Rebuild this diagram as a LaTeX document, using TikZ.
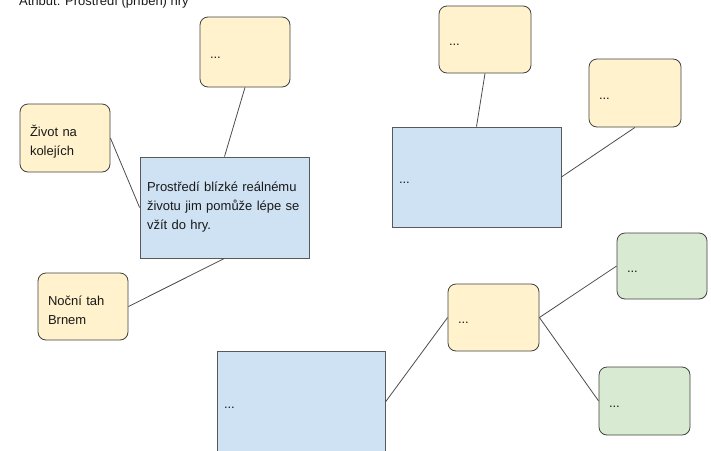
\documentclass[tikz,border=0pt]{standalone}
\usepackage{fontspec}
\setmainfont{Liberation Sans}
\begin{document}
\begin{tikzpicture}[x=1pt,y=-1pt,
  every node/.style={font=\fontsize{13}{19}\selectfont, text=black!90},
  ybox/.style 2 args={draw=black!75, line width=0.8pt, fill=ynote,
    rounded corners=8pt, inner xsep=10pt, inner ysep=0pt, align=left,
    minimum height=#2, text width=#1-20pt},
  gbox/.style 2 args={ybox={#1}{#2}, fill=gnote},
  bbox/.style 2 args={draw=black!65, line width=0.8pt, fill=bnote,
    inner xsep=7pt, inner ysep=0pt, align=left,
    minimum height=#2, text width=#1-14pt},
  oneline/.style={text height=12pt, text depth=0pt},
  twoline/.style={text height=18pt, text depth=21pt},
  threeline/.style={text height=8pt, text depth=41pt},
  link/.style={draw=black!70, line width=0.8pt}]
\definecolor{ynote}{HTML}{FFF2CC}
\definecolor{bnote}{HTML}{CFE2F3}
\definecolor{gnote}{HTML}{D9EAD3}
\useasboundingbox (0,0) rectangle (711,450);
\clip (0,0) rectangle (711,450);

% heading, cut by the top edge
\node[anchor=base west, inner sep=0pt] (title) at (19,5) {Atribut: Prostředí (příběh) hry};

% left group
\node[bbox={169pt}{101pt}, threeline] (main) at (224.5,207.5)
  {Prostředí blízké reálnému\\životu jim pomůže lépe se\\vžít do hry.};
\node[ybox={90pt}{70pt}, oneline] (a) at (245,52) {...};
\node[ybox={90pt}{68pt}, twoline] (zivot) at (65,138) {Život na\\kolejích};
\node[ybox={90pt}{67pt}, twoline] (nocni) at (83,306.5) {Noční tah\\Brnem};

\draw[link] (a.south) -- (main.north);
\draw[link] (zivot.east) -- (main.west);
\draw[link] (nocni.east) -- (main.south);

% upper right group
\node[bbox={169pt}{100pt}, oneline] (d) at (476.5,177) {...};
\node[ybox={92pt}{67pt}, oneline] (b) at (485,39.5) {...};
\node[ybox={92pt}{68pt}, oneline] (c) at (635,93) {...};

\draw[link] (b.south) -- (d.north);
\draw[link] (c.south) -- (d.east);

% lower right group
\node[bbox={168pt}{102pt}, oneline] (h) at (301,402) {...};
\node[ybox={91pt}{67pt}, oneline] (e) at (493.5,317.5) {...};
\node[gbox={90pt}{66pt}, oneline] (f) at (662,266) {...};
\node[gbox={91pt}{68pt}, oneline] (g) at (644.5,401) {...};

\draw[link] (h.east) -- (e.west);
\draw[link] (e.east) -- (f.west);
\draw[link] (e.east) -- (g.west);
\end{tikzpicture}
\end{document}
